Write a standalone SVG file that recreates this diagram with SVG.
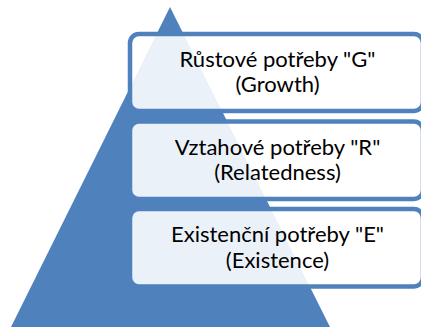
<svg xmlns="http://www.w3.org/2000/svg" width="421" height="327" viewBox="0 0 421 327">
<style>
.box{fill:#ffffff;fill-opacity:0.89;stroke:#4F81BD;stroke-width:4.5}
.t{font-family:Lato,"Open Sans",sans-serif;font-size:22px;fill:#000000;text-anchor:middle}
</style>
<rect width="421" height="327" fill="#ffffff"/>
<g id="pyramid">
<polygon points="170,7 330,327 11,327" fill="#4F81BD"/>
</g>
<g id="connectors"></g>
<g id="growth">
<rect class="box" x="130" y="34" width="293" height="77" rx="9"/>
<text class="t" x="277.5" y="66.5">Růstové potřeby "G"</text>
<text class="t" x="277.5" y="92">(Growth)</text>
</g>
<g id="relatedness">
<rect class="box" x="130" y="121.5" width="293" height="77.5" rx="9"/>
<text class="t" x="277.5" y="154.5">Vztahové potřeby "R"</text>
<text class="t" x="277.5" y="180">(Relatedness)</text>
</g>
<g id="existence">
<rect class="box" x="130" y="209" width="293" height="77.5" rx="9"/>
<text class="t" x="277.5" y="242">Existenční potřeby "E"</text>
<text class="t" x="277.5" y="267.5">(Existence)</text>
</g>
</svg>
